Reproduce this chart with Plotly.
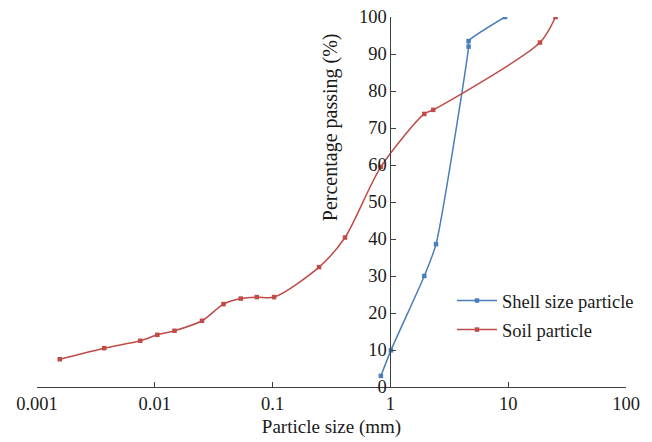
import plotly.graph_objects as go

# Shell size particle
shell_size = [0.83, 1.01, 1.94, 2.44, 4.61, 4.61, 9.4]
shell_pass = [3.0, 9.9, 30.0, 38.6, 92.0, 93.5, 100.0]

# Soil particle
soil_size = [0.00156, 0.00372, 0.00752, 0.0105, 0.0147, 0.0252, 0.0383, 0.0537,
             0.0734, 0.103, 0.248, 0.412, 0.83, 1.94, 2.31, 18.6, 25.2]
soil_pass = [7.5, 10.5, 12.5, 14.1, 15.2, 17.9, 22.4, 23.9,
             24.3, 24.3, 32.4, 40.4, 59.5, 73.8, 74.9, 93.1, 100.0]

x_tickvals = [0.001, 0.01, 0.1, 1, 10, 100]
x_ticktext = ["0.001", "0.01", "0.1", "1", "10", "100"]
y_tickvals = [0, 10, 20, 30, 40, 50, 60, 70, 80, 90, 100]

FONT = "Liberation Serif"
BLUE = "#4A7EBB"
RED = "#BE4B48"
AX = "#404040"
TXT = "#1a1a1a"

fig = go.Figure()
fig.add_trace(go.Scatter(
    x=shell_size, y=shell_pass, name="Shell size particle",
    mode="lines+markers", line=dict(color=BLUE, width=1.5, shape="spline", smoothing=0.6),
    marker=dict(symbol="square", size=4.5, color=BLUE), legendgroup="a"))
fig.add_trace(go.Scatter(
    x=soil_size, y=soil_pass, name="Soil particle",
    mode="lines+markers", line=dict(color=RED, width=1.5, shape="spline", smoothing=0.8),
    marker=dict(symbol="square", size=4.5, color=RED), legendgroup="b"))

L, R, T, B = 37, 26, 17, 55
W, H = 652, 442
pw = W - L - R
ph = H - T - B

fig.update_layout(
    width=W, height=H,
    margin=dict(l=L, r=R, t=T, b=B, pad=0, autoexpand=False),
    paper_bgcolor="white", plot_bgcolor="white",
    font=dict(family=FONT, size=18.5, color=TXT),
    showlegend=True,
    legend=dict(xref="paper", yref="paper",
                x=(452 - L) / pw, y=(H - B - 282) / ph, xanchor="left", yanchor="top",
                bgcolor="rgba(0,0,0,0)", tracegroupgap=2, itemwidth=40,
                font=dict(family=FONT, size=18.5, color=TXT)),
    xaxis=dict(type="log", range=[-3, 2], tickvals=x_tickvals, ticktext=x_ticktext,
               showgrid=False, zeroline=False, showline=True, linecolor=AX, linewidth=1,
               ticks="inside", ticklen=5, tickcolor=AX,
               tickfont=dict(family=FONT, size=18.5, color=TXT),
               title=dict(text="Particle size (mm)", standoff=6,
                          font=dict(family=FONT, size=19, color=TXT))),
    yaxis=dict(range=[0, 100], tickvals=y_tickvals, anchor="free", position=0.6,
               showgrid=False, zeroline=False, showline=True, linecolor=AX, linewidth=1,
               ticks="inside", ticklen=5, tickcolor=AX,
               tickfont=dict(family=FONT, size=18.5, color=TXT)),
)

fig.add_annotation(
    text="Percentage passing (%)", textangle=-90,
    xref="paper", yref="paper",
    x=(330.7 - L) / pw, y=(H - B - 127.5) / ph,
    xanchor="center", yanchor="middle", showarrow=False,
    font=dict(family=FONT, size=20, color=TXT))

fig.write_html("out.html")
